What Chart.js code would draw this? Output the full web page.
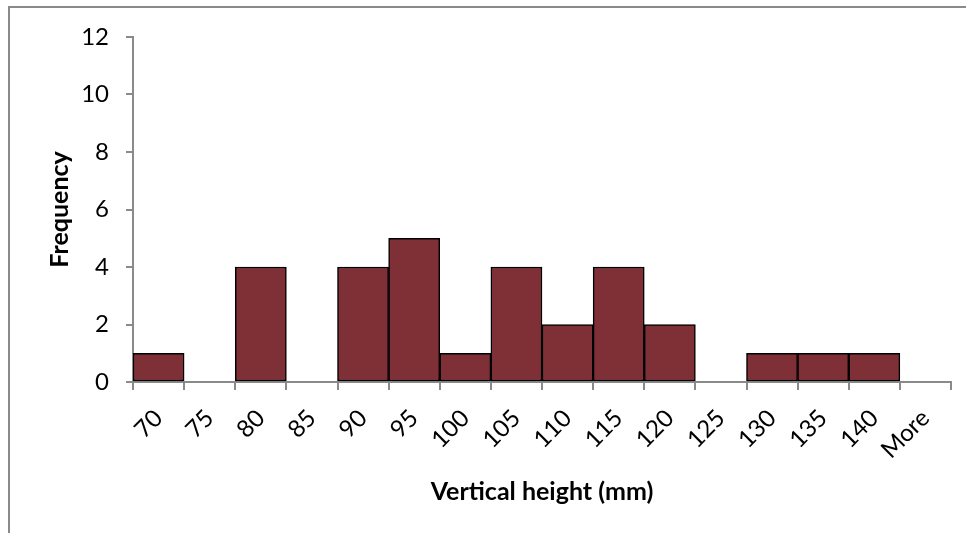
<!DOCTYPE html>
<html>
<head>
<meta charset="utf-8">
<script src="https://cdn.jsdelivr.net/npm/chart.js@4.4.1/dist/chart.umd.min.js"></script>
<style>
  html, body { margin: 0; padding: 0; background: #fff; overflow: hidden; }
  #frame { position: absolute; left: 8px; top: 6px; width: 1000px; height: 600px;
           border-left: 2px solid #8a8a8a; border-top: 2px solid #8a8a8a; }
  #wrap { position: absolute; left: 0; top: 0; width: 966px; height: 533px; }
</style>
</head>
<body>
<div id="frame"></div>
<div id="wrap"><canvas id="histChart" width="966" height="533"></canvas></div>
<script>
// histogram bins and counts
var bins = ['70', '75', '80', '85', '90', '95', '100', '105', '110', '115', '120', '125', '130', '135', '140', 'More'];
var counts = [1, 0, 4, 0, 4, 5, 1, 4, 2, 4, 2, 0, 1, 1, 1, 0];
var yTicks = [0, 2, 4, 6, 8, 10, 12];

var fontFamily = 'Lato, "Open Sans", sans-serif';
var axisGrey = '#8a8a8a';

var hist = new Chart(document.getElementById('histChart'), {
    type: 'bar',
    data: {
        labels: bins,
        datasets: [{
            label: 'Frequency',
            data: counts,
            backgroundColor: '#7f3036',
            borderColor: '#000',
            borderWidth: 1.5,
            borderSkipped: false,
            barPercentage: 1,
            categoryPercentage: 1
        }]
    },
    options: {
        responsive: false,
        animation: false,
        devicePixelRatio: 1,
        layout: { padding: { left: 0, top: 37, right: 15, bottom: 0 } },
        plugins: {
            legend: { display: false },
            tooltip: { enabled: false }
        },
        scales: {
            x: {
                offset: true,
                grid: { offset: true, drawOnChartArea: false, drawTicks: true, tickLength: 8, color: axisGrey, lineWidth: 2 },
                border: { display: true, color: axisGrey, width: 2 },
                ticks: { color: '#000', font: { family: fontFamily, size: 24 }, maxRotation: 45, minRotation: 45, padding: 14, autoSkip: false },
                title: { display: true, text: 'Vertical height (mm)', color: '#000', font: { family: fontFamily, size: 25, weight: 'bold' }, padding: { top: 0, bottom: 26 } },
                afterFit: function (scale) { scale.height = 151; }
            },
            y: {
                min: 0,
                max: 12,
                afterBuildTicks: function (scale) { scale.ticks = yTicks.map(function (v) { return { value: v }; }); },
                grid: { drawOnChartArea: false, drawTicks: true, tickLength: 7, color: axisGrey, lineWidth: 2 },
                border: { display: true, color: axisGrey, width: 2 },
                ticks: { color: '#000', font: { family: fontFamily, size: 24 }, padding: 17 },
                title: { display: true, text: 'Frequency', color: '#000', font: { family: fontFamily, size: 25, weight: 'bold' }, padding: { top: 45, bottom: 0 } },
                afterFit: function (scale) { scale.width = 133; }
            }
        }
    }
});
</script>
</body>
</html>
